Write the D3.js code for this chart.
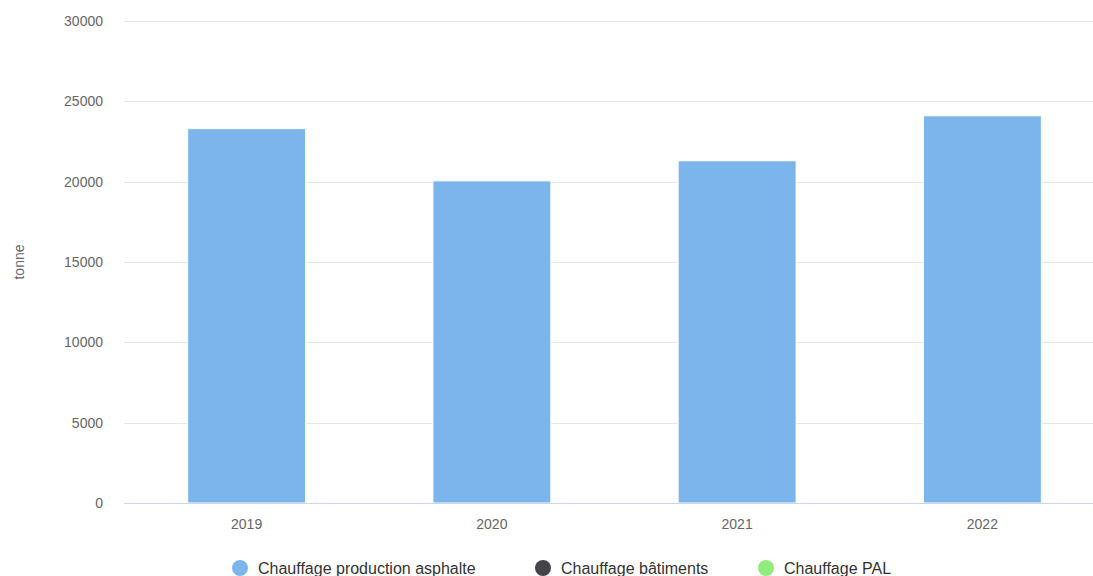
<!DOCTYPE html>
<html>
<head>
<meta charset="utf-8">
<script src="https://cdn.jsdelivr.net/npm/d3@7"></script>
<style>
  html, body { margin: 0; padding: 0; background: #fff; overflow: hidden; }
  svg { display: block; font-family: "Liberation Sans", Arial, sans-serif; }
</style>
</head>
<body>
<svg id="chart" width="1093" height="576"></svg>
<script>
// Annual quantities (tonne) by year
const years = ["2019", "2020", "2021", "2022"];
const asphalte = [23300, 20050, 21300, 24100];
const yTicks = [0, 5000, 10000, 15000, 20000, 25000, 30000];

// Legend entries
const seriesNames = ["Chauffage production asphalte", "Chauffage bâtiments", "Chauffage PAL"];
const seriesColors = ["#7cb5ec", "#434348", "#90ed7d"];
const legendX = [240, 543, 766];

const svg = d3.select("#chart");
const margin = { left: 124, right: 1105, top: 21, bottom: 503 };

const x = d3.scaleBand()
  .domain(years)
  .range([margin.left, margin.right])
  .paddingInner(0.519)
  .paddingOuter(0.2595);

const y = d3.scaleLinear()
  .domain([0, 30000])
  .range([margin.bottom, margin.top]);

// Horizontal grid lines
svg.append("g")
  .selectAll("line")
  .data(yTicks.filter(d => d > 0))
  .join("line")
  .attr("x1", margin.left)
  .attr("x2", 1093)
  .attr("y1", d => Math.round(y(d)) + 0.5)
  .attr("y2", d => Math.round(y(d)) + 0.5)
  .attr("stroke", "#e6e6e6")
  .attr("stroke-width", 1);

// Y axis labels
const yAxis = d3.axisLeft(y).tickValues(yTicks).tickSize(0).tickPadding(0).tickFormat(d3.format("d"));
const gy = svg.append("g")
  .attr("transform", `translate(103,0)`)
  .call(yAxis);
gy.select(".domain").remove();
gy.selectAll("text")
  .attr("fill", "#666666")
  .style("font-size", "14px")
  .attr("dy", "0.32em")
  .style("font-family", "\"Liberation Sans\", Arial, sans-serif");

// Bars
svg.append("g")
  .selectAll("rect")
  .data(years.map((yr, i) => ({ yr, v: asphalte[i] })))
  .join("rect")
  .attr("x", d => x(d.yr))
  .attr("width", x.bandwidth())
  .attr("y", d => y(d.v))
  .attr("height", d => y(0) - y(d.v))
  .attr("fill", seriesColors[0])
  .attr("stroke", "#ffffff")
  .attr("stroke-width", 1);

// X axis line
svg.append("line")
  .attr("x1", margin.left)
  .attr("x2", 1093)
  .attr("y1", margin.bottom + 0.5)
  .attr("y2", margin.bottom + 0.5)
  .attr("stroke", "#ccd6eb")
  .attr("stroke-width", 1);

// X axis labels
const xAxis = d3.axisBottom(x).tickSize(0).tickPadding(0);
const gx = svg.append("g")
  .attr("transform", `translate(0,${margin.bottom})`)
  .call(xAxis);
gx.select(".domain").remove();
gx.selectAll("text")
  .attr("fill", "#666666")
  .attr("y", 26)
  .attr("dy", 0)
  .style("font-size", "14px")
  .style("font-family", "\"Liberation Sans\", Arial, sans-serif");

// Y axis title
svg.append("text")
  .attr("transform", "translate(24,262) rotate(-90)")
  .attr("text-anchor", "middle")
  .attr("fill", "#666666")
  .style("font-size", "14px")
  .text("tonne");

// Legend
const legend = svg.append("g")
  .selectAll("g")
  .data(seriesNames.map((n, i) => ({ n, c: seriesColors[i], x: legendX[i] })))
  .join("g")
  .attr("transform", d => `translate(${d.x},568)`);
legend.append("circle")
  .attr("r", 8)
  .attr("fill", d => d.c);
legend.append("text")
  .attr("x", 18)
  .attr("dy", "0.35em")
  .attr("fill", "#333333")
  .style("font-size", "16px")
  .text(d => d.n);
</script>
</body>
</html>
